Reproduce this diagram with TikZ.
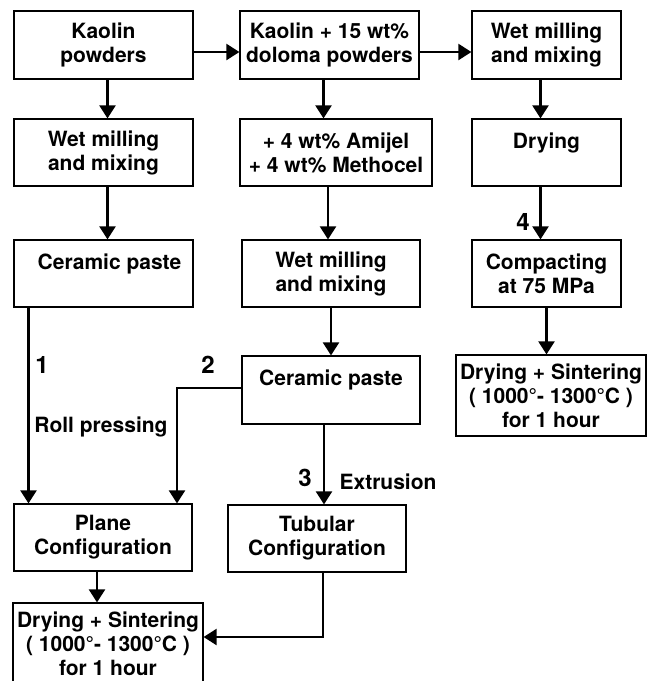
\documentclass[tikz,border=0pt]{standalone}
\usepackage{fontspec}
\setmainfont{TeX Gyre Heros}
\usetikzlibrary{arrows.meta}
\begin{document}
\begin{tikzpicture}[x=1pt, y=-1pt,
    box/.style={draw, line width=1.2pt, minimum width=179pt, minimum height=68pt, align=center, inner sep=0pt, font=\fontsize{21}{24}\selectfont\bfseries},
    arr/.style={-{Triangle[length=13pt,width=16pt]}, line width=2.2pt},
    lbl/.style={inner sep=0pt, font=\fontsize{21}{24}\selectfont\bfseries},
    num/.style={inner sep=0pt, font=\fontsize{24}{28}\selectfont\bfseries}
]
\clip (0,0) rectangle (647,681);
\node[box] (kp) at (103.5,45) {Kaolin\\powders};
\node[box] (kd) at (329.5,45) {Kaolin + 15 wt\%\\doloma powders};
\node[box, minimum width=149pt] (wmr) at (546.5,45) {Wet milling\\and mixing};
\node[box, minimum height=67pt] (wml) at (103.5,152.5) {Wet milling\\and mixing};
\node[box, minimum width=192pt, minimum height=67pt] (am) at (336,152.5) {+ 4 wt\% Amijel\\+ 4 wt\% Methocel};
\node[box, minimum width=149pt, minimum height=67pt] (dry) at (546.5,152.5) {Drying\\~};
\node[box, minimum height=67pt] (cpl) at (103.5,273.5) {\hspace{12pt}Ceramic paste\\~};
\node[box, minimum width=178pt, minimum height=67pt] (wmm) at (331,273.5) {Wet milling\\and mixing};
\node[box, minimum width=149pt, minimum height=67pt] (comp) at (546.5,273.5) {Compacting\\at 75 MPa};
\node[box, minimum width=178pt] (cpm) at (331,390) {Ceramic paste\\~};
\node[box, minimum width=190pt, minimum height=81pt] (dsr) at (551,395.5) {Drying + Sintering\\( 1000°- 1300°C )\\for 1 hour};
\node[box, minimum width=178pt, minimum height=67pt] (pc) at (103,537.5) {Plane\\Configuration};
\node[box, minimum width=178pt, minimum height=67pt] (tc) at (317,538.5) {Tubular\\Configuration};
\node[box, minimum width=190pt, minimum height=81pt] (dsl) at (108,643.5) {Drying + Sintering\\( 1000°- 1300°C )\\for 1 hour};

\node[num] (n1) at (42,365) {1};
\node[num] (n2) at (208,365) {2};
\node[num] (n3) at (305,478) {3};
\node[num] (n4) at (523,222) {4};
\node[lbl] (rp) at (101,427) {Roll pressing};
\node[lbl] (ext) at (388,482) {Extrusion};

\draw[arr] ([yshift=-7pt]kp.east) -- ([yshift=-7pt]kd.west);
\draw[arr] ([yshift=-7pt]kd.east) -- ([yshift=-7pt]wmr.west);
\draw[arr] ([xshift=4pt]kp.south) -- ([xshift=4pt]wml.north);
\draw[arr] ([xshift=4pt]wml.south) -- ([xshift=4pt]cpl.north);
\draw[arr] ([xshift=-6pt]kd.south) -- ([xshift=-6pt]kd.south |- am.north);
\draw[arr] ([xshift=-3pt]wmm.north |- am.south) -- ([xshift=-3pt]wmm.north);
\draw[arr] (wmm) -- (cpm);
\draw[arr] ([xshift=-6pt]wmr.south) -- ([xshift=-6pt]dry.north);
\draw[arr] ([xshift=-6pt]dry.south) -- ([xshift=-6pt]comp.north);
\draw[arr] (comp.south) -- (comp.south |- dsr.north);
\draw[arr] ([xshift=-75pt]cpl.south) -- ([xshift=-75pt]cpl.south |- pc.north);
\draw[arr] ([yshift=2pt]cpm.west) -| ([xshift=74pt]pc.north);
\draw[arr] ([xshift=-7pt]cpm.south) -- ([xshift=-7pt]cpm.south |- tc.north);
\draw[arr] ([xshift=-6pt]pc.south) -- ([xshift=-6pt]pc.south |- dsl.north);
\draw[arr] ([xshift=6pt]tc.south) |- ([yshift=6.5pt]dsl.east);
\end{tikzpicture}
\end{document}
